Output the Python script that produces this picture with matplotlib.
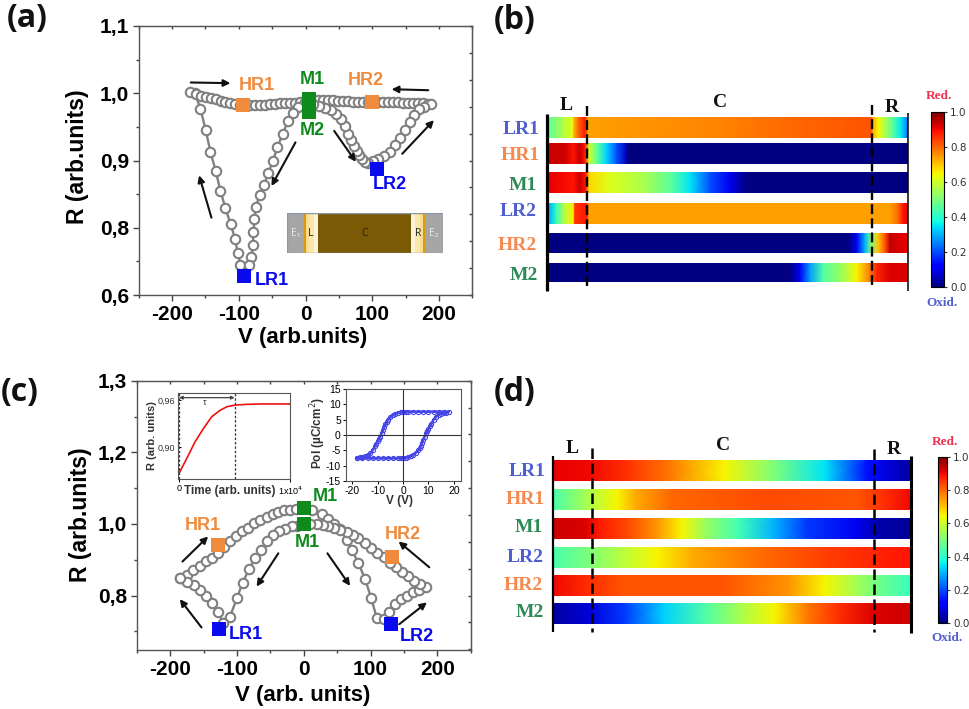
import numpy as np
import matplotlib
matplotlib.use("Agg")
import matplotlib.pyplot as plt
from matplotlib.cm import ScalarMappable
from matplotlib.colors import Normalize
from matplotlib.patches import Rectangle

SANS = "Liberation Sans"
SERIF = "Liberation Serif"
plt.rcParams["font.family"] = [SANS, "DejaVu Sans"]
plt.rcParams["axes.unicode_minus"] = False

W, H = 969, 709

# ---- panel (a) data
a_v = [-97.5, -101.5, -105.5, -112, -120, -127.5, -134.5, -142.5, -149.5, -157.5, -166, -173,
       -163.5, -156, -148.5, -141, -133.5, -127, -120, -112.5, -105, -98.5, -91, -83.5, -76, -68.5,
       -61, -53.5, -46, -38.5, -31, -23.5, -16, -8.5, -1, 6.5, 19, 26.5, 34, 41.5, 49, 56.5, 64, 71.5,
       79, 86.5, 94, 101.5, 109, 116.5, 124, 131.5, 139, 146.5, 154, 161.5, 169, 176.5, 184, 188,
       177.5, 170.5, 163, 156.5, 149, 141.5, 134, 126.5, 118, 109, 100.5, 93.5, 89, 84, 80, 76.5,
       72.5, 68, 64, 59, 52.5, 45.5, 37.5, 29, 20.5, 11.5, 4,
       -11, -18.5, -26.5, -34, -42, -49, -56, -62, -68.5, -74.5, -76.5, -78, -79, -81, -84.5]
a_r = [.745, .762, .783, .805, .829, .855, .884, .913, .945, .977, 1.001, 1.002,
       .9995, .996, .9945, .9925, .991, .989, .987, .985, .984, .983, .982, .982, .983, .983,
       .983, .984, .984, .985, .985, .986, .986, .987, .9875, .991, .9905, .9905, .99, .9895, .989, .9885, .988, .9875,
       .9875, .9875, .987, .987, .9865, .9865, .9865, .9865, .9865, .986, .986, .986, .9855, .9855, .9845, .984,
       .98, .976, .967, .957, .946, .934, .923, .913, .9065, .9015, .899, .8965, .8975, .9015, .9075, .914,
       .9215, .931, .94, .951, .961, .9685, .975, .9785, .981, .9835, .986,
       .98, .97, .958, .94, .92, .899, .881, .864, .849, .831, .813, .793, .774, .757, .744]

# state markers (V, R)
a_states = {"HR1": (-93, .982), "M1": (5.5, .991), "M2": (5.5, .972),
            "HR2": (99.5, .9875), "LR1": (-92, .728), "LR2": (106.5, .8875)}
a_state_labels = {"HR1": (-73.5, 1.012), "M1": (9.5, 1.021), "M2": (10.5, .945),
                  "HR2": (90.5, 1.019), "LR1": (-50.5, .721), "LR2": (126.5, .864)}
a_arrows = [((-172, 1.016), (-112.5, 1.015)), ((184, 1.0045), (129, 1.006)),
            ((43, .944), (75.5, .898)), ((145, .91), (192.5, .96)),
            ((-15, .927), (-51, .862)), ((-141, .815), (-159.5, .878))]

# ---- panel (c) data
c_v = [-184.5, -174.5, -165.5, -155.5, -146.5, -138, -128, -119.5, -110.5, -101.5, -92.5, -83, -74, -65, -55.5,
       -46.5, -38, -29, -20.5, -11.5, 0, 13, 27, 37, 46, 54.5, 64.5, 72.5, 82, 92, 101, 109.5, 119.5,
       127, 137, 146, 154.5, 163, 172, 183.5,
       173.5, 164.5, 155.5, 147, 138, 129.5, 119.5, 109.5, 101, 92, 82, 73.5, 64.5, 54.5, 46, 37, 28.5, 19.5, 9.5, 0,
       -10.5, -18, -28, -36.5, -45.5, -55.5, -64, -73, -82, -91.5, -100, -110.5, -120.5,
       -128, -137, -146.5, -155.5, -164.5, -174.5, -184.5]
c_r = [.85, .858, .872, .883, .896, .905, .92, .935, .951, .965, .979, .99, 1.002, 1.011, 1.02,
       1.029, 1.033, 1.038, 1.04, 1.042, 1.044, 1.038, 1.027, 1.015, 1.0, .985, .955, .926, .89, .846, .793, .737, .734,
       .755, .776, .79, .799, .809, .816, .823,
       .832, .842, .855, .867, .879, .89, .909, .92, .932, .946, .96, .968, .978, .983, .99, .995, .998, 1.0, 1.0, 1.0,
       .995, .993, .986, .979, .969, .951, .928, .904, .873, .836, .792, .741, .723,
       .755, .779, .799, .816, .83, .839, .85]

c_states = {"HR1": (-129, .941), "M1": (0, 1.0456), "M1b": (0, .999),
            "HR2": (132, .909), "LR1": (-127.5, .707), "LR2": (130.5, .721)}
c_state_labels = {"HR1": (-150.5, .995), "M1": (33, 1.078), "M1b": (6, .949),
                  "HR2": (148.5, .971), "LR1": (-86.5, .692), "LR2": (169.5, .687)}
c_arrows = [((-181.5, .895), (-143, .965)), ((-153, .711), (-185.5, .79)),
            ((-38, .918), (-70.5, .825)), ((35.5, .918), (69.5, .827)),
            ((188, .879), (142, .951)), ((143, .72), (184.5, .781))]

# inset: R vs time
time_vals = [0, .07, .144, .22, .295, .37, .43, .503, .61, .73, 1]
time_r = [.867, .886, .907, .924, .939, .947, .9515, .9536, .9545, .955, .955]

# inset: hysteresis loop
loop_v = [-18, -17, -16, -15, -14, -13, -12, -11, -10.5, -10, -9.5, -9, -8.5, -8, -7.5, -7, -6.5, -6, -5, -4, -3, -2, -1, 0,
          1, 2, 4, 6, 8, 10, 12, 14, 16, 18,
          17, 16, 15, 14, 13, 12, 11, 10.5, 10, 9.5, 9, 8.5, 8, 7.5, 7, 6.5, 6, 5, 4, 3, 2, 1, 0,
          -1, -2, -4, -6, -8, -10, -12, -14, -16, -18]
loop_p = [-7.5, -7.3, -7.2, -7, -6.6, -6, -5, -3.5, -2.8, -2, -1.2, -.5, .5, 1.5, 2.5, 3.5, 4.3, 5, 5.8, 6.5, 6.9, 7.2, 7.4, 7.5,
          7.6, 7.6, 7.6, 7.6, 7.6, 7.6, 7.6, 7.6, 7.6, 7.6,
          7.3, 7.2, 7, 6.6, 6, 5, 3.5, 2.8, 2, 1.2, .5, -.5, -1.5, -2.5, -3.5, -4.3, -5, -5.8, -6.5, -6.9, -7.2, -7.4, -7.5,
          -7.6, -7.6, -7.6, -7.6, -7.6, -7.6, -7.6, -7.6, -7.6, -7.6]

# ---- panel (b) profiles, position along device (%) and value
state_names = ["LR1", "HR1", "M1", "LR2", "HR2", "M2"]
b_pos = [
    [0, 3.4, 6.5, 6.9, 8.1, 9.9, 10.9, 11.3, 48.5, 67, 87.5, 89.6, 90.3, 91.6, 93, 95.8, 98.1, 100],
    [0, 4.4, 6.7, 8.5, 9.9, 11.1, 13.6, 16, 18.8, 21.5, 22, 100],
    [0, 6.7, 8.5, 10.2, 11.1, 16.9, 27.1, 34.5, 39.2, 44.8, 50.3, 55, 100],
    [0, 2, 4.4, 6.7, 7.1, 10.4, 11.1, 95, 97.2, 98.6, 100],
    [0, 83.3, 85.6, 87.9, 89.6, 91.6, 93.5, 94.9, 97.2, 100],
    [0, 67, 69.8, 72.6, 76.3, 81.9, 85.6, 89.3, 91.2, 94.9, 100],
]
b_val = [
    [.47, .55, .63, .72, .8, .88, .72, .74, .77, .8, .82, .82, .72, .65, .58, .45, .35, .22],
    [.93, .93, .89, .94, .89, .6, .45, .33, .2, .05, 0, 0],
    [.91, .89, .93, .88, .68, .62, .55, .45, .35, .2, .1, 0, 0],
    [.3, .42, .58, .66, .85, .89, .74, .74, .8, .89, .91],
    [0, 0, .1, .3, .5, .7, .82, .94, .92, .91],
    [0, 0, .1, .28, .45, .55, .65, .78, .87, .92, .92],
]

# ---- panel (d) profiles
d_pos = [
    [0, 10, 20, 33, 48, 62, 76, 88, 94, 100],
    [0, 10, 18, 23, 33, 60, 85, 93, 100],
    [0, 9, 13, 21, 29, 36, 43, 52, 62, 71, 85, 91, 100],
    [0, 10, 20, 29, 39, 57, 76, 90, 100],
    [0, 10, 20, 48, 66, 76, 85, 92, 100],
    [0, 10, 20, 31, 43, 52, 62, 71, 80, 90, 100],
]
d_val = [
    [.91, .9, .86, .78, .65, .5, .35, .14, .08, .03],
    [.44, .56, .65, .73, .8, .83, .82, .86, .9],
    [.93, .92, .88, .83, .75, .65, .53, .43, .3, .18, .1, .04, .02],
    [.44, .5, .58, .65, .73, .79, .84, .87, .89],
    [.9, .86, .82, .82, .75, .65, .55, .48, .42],
    [.03, .08, .18, .33, .45, .55, .65, .78, .86, .92, .93],
]

GREY = "#808080"
BLUE = "#0a0aee"
ORANGE = "#f08a3c"
GREEN = "#0f8a1c"
LBL_BLUE = "#4f5fd0"
LBL_ORANGE = "#f58a50"
LBL_GREEN = "#2e8b57"


def state_color(name):
    return {"L": BLUE, "H": ORANGE, "M": GREEN}[name[0]]


def label_color(name):
    return {"L": LBL_BLUE, "H": LBL_ORANGE, "M": LBL_GREEN}[name[0]]


fig = plt.figure(figsize=(W / 100, H / 100), dpi=100, facecolor="white")


def px_axes(x0, y0, x1, y1, **kw):
    return fig.add_axes([x0 / W, 1 - y1 / H, (x1 - x0) / W, (y1 - y0) / H], **kw)


def draw_iv(ax, v, r, states, labels, arrows, xlim, ylim, yticks, ylabels, yminor, right_ticks):
    ax.plot(v + v[:1], r + r[:1], "-", color=GREY, lw=1.7, zorder=2)
    ax.plot(v, r, "o", ms=6.8, mfc="white", mec=GREY, mew=1.5, zorder=3)
    for name, (sx, sy) in states.items():
        ax.plot(sx, sy, "s", ms=9.6, color=state_color(name), mew=0, zorder=4)
        lx, ly = labels[name]
        ax.text(lx, ly, name.replace("b", ""), color=state_color(name), fontsize=13, fontweight="bold",
                ha="center", va="center", zorder=5)
    for start, end in arrows:
        ax.annotate("", xy=end, xytext=start,
                    arrowprops=dict(arrowstyle="-|>", color="#111111", lw=1.5, mutation_scale=10, shrinkA=0, shrinkB=0))
    ax.set_xlim(*xlim)
    ax.set_ylim(*ylim)
    ax.set_xticks([-200, -100, 0, 100, 200])
    ax.set_xticks([-250, -150, -50, 50, 150, 250], minor=True)
    ax.set_yticks(yticks)
    ax.set_yticklabels(ylabels)
    ax.set_yticks(yminor, minor=True)
    for lab in ax.get_xticklabels() + ax.get_yticklabels():
        lab.set_fontweight("bold")
    ax.tick_params(which="major", length=4, width=1, labelsize=15, pad=3, color="#444444")
    ax.tick_params(which="minor", length=2.5, width=1, color="#444444")
    for s in ax.spines.values():
        s.set_color("#555555")
        s.set_linewidth(1)
    top = ax.secondary_xaxis("top")
    top.set_xticks([-250, -200, -150, -100, -50, 0, 50, 100, 150, 200, 250])
    top.tick_params(direction="in", length=2.5, width=1, labeltop=False, color="#444444")
    right = ax.secondary_yaxis("right")
    right.set_yticks(right_ticks)
    right.tick_params(direction="in", length=2.5, width=1, labelright=False, color="#444444")
    for sec in (top, right):
        for s in sec.spines.values():
            s.set_color("#555555")


# (a)
ax_a = px_axes(138.7, 26, 472.3, 295)
draw_iv(ax_a, a_v, a_r, a_states, a_state_labels, a_arrows, (-250, 250), (.7, 1.1),
        [.7, .8, .9, 1.0, 1.1], ["0,6", "0,8", "0,9", "1,0", "1,1"],
        [.75, .85, .95, 1.05],
        [.7, .74, .78, .82, .86, .9, .94, .98, 1.02, 1.06, 1.1])

# device sketch inside (a)
ax_dev = px_axes(286.7, 213.3, 442.7, 252.7, zorder=6)
ax_dev.set_xlim(0, 468)
ax_dev.set_ylim(0, 1)
ax_dev.axis("off")
for x0, w, col in [(0, 52, "#a6a6a6"), (52, 5, "#d99a10"), (57, 10, "#f9dd90"), (67, 14, "#fbe6ac"),
                   (81, 12, "#fdf3d8"), (93, 280, "#7a5a05"), (373, 12, "#fdf3d8"), (385, 14, "#fbe6ac"),
                   (399, 10, "#f9dd90"), (409, 5, "#d99a10"), (414, 54, "#a6a6a6")]:
    ax_dev.add_patch(Rectangle((x0, 0), w, 1, fc=col, ec="none"))
ax_dev.add_patch(Rectangle((0, 0), 468, 1, fc="none", ec="#8a96a8", lw=1))
for x, s, col in [(26, "E₁", "#e8e8e8"), (73, "L", "#222222"), (233, "C", "#222222"),
                  (394, "R", "#222222"), (440, "E₂", "#e8e8e8")]:
    ax_dev.text(x, .48, s, fontsize=7.5, color=col, ha="center", va="center",
                family=["Open Sans", "DejaVu Sans"])

# (c)
ax_c = px_axes(136.7, 380.7, 470.7, 650)
draw_iv(ax_c, c_v, c_r, c_states, c_state_labels, c_arrows, (-250, 250), (.648, 1.4),
        [.8, 1.0, 1.2, 1.4], ["0,8", "1,0", "1,2", "1,3"],
        [.7, .9, 1.1, 1.3],
        [.65, .725, .8, .875, .95, 1.025, 1.1, 1.175, 1.25, 1.325, 1.4])

# inset R vs time
ax_t = px_axes(177.7, 392.7, 290.3, 479.3, zorder=6)
ax_t.plot(time_vals, time_r, color="#ee1111", lw=1.2)
ax_t.set_xlim(-.012, 1)
ax_t.set_ylim(.8594, .9693)
ax_t.axvline(.5, color="#333333", lw=.9, ls=(0, (2, 1.5)))
ax_t.axvline(0, color="#333333", lw=.9, ls=(0, (2, 1.5)))
ax_t.annotate("", xy=(0, .963), xytext=(.5, .963),
              arrowprops=dict(arrowstyle="<|-|>", color="#444444", lw=.9, mutation_scale=5, shrinkA=0, shrinkB=0))
ax_t.text(.23, .957, "τ", fontsize=6.5, ha="center", va="center", color="#333333")
ax_t.set_xticks([0, 1])
ax_t.set_xticklabels(["0", "1x10$^4$"], fontsize=6.5)
ax_t.set_yticks([.90, .96])
ax_t.set_yticklabels(["0,90", "0,96"], fontsize=6.5, color="#333333")
ax_t.tick_params(axis="y", direction="in", length=2, pad=1.5, width=.7)
ax_t.tick_params(axis="x", length=2, pad=1.5, width=.7)
for s in ax_t.spines.values():
    s.set_linewidth(.8)
    s.set_color("#555555")

# inset hysteresis
ax_p = px_axes(345.7, 389, 461, 481, zorder=6)
ax_p.plot(loop_v, loop_p, "-o", color="#4646e6", lw=1.8, ms=3, mfc="none", mew=.8)
ax_p.axhline(0, color="#333333", lw=.8)
ax_p.axvline(0, color="#333333", lw=.8)
ax_p.set_xlim(-22.6, 22.8)
ax_p.set_ylim(-15, 15)
ax_p.set_xticks([-20, -10, 0, 10, 20])
ax_p.set_yticks([-15, -10, -5, 0, 5, 10, 15])
ax_p.tick_params(labelsize=7.5, length=2, width=.7, pad=1.5)
for s in ax_p.spines.values():
    s.set_linewidth(.8)
    s.set_color("#555555")


def draw_rows(positions, values, row_tops, row_bots, x0, x1):
    for pos, val, top, bot in zip(positions, values, row_tops, row_bots):
        ax = px_axes(x0, top, x1, bot)
        xx, yy = np.meshgrid(pos, [0, 1])
        zz = np.array([val, val])
        ax.pcolormesh(xx, yy, zz, cmap="jet", vmin=0, vmax=1, shading="gouraud", rasterized=True)
        ax.set_xlim(0, 100)
        ax.axis("off")


def draw_cbar(x0, y0, x1, y1, size):
    cax = px_axes(x0, y0, x1, y1)
    sm = ScalarMappable(norm=Normalize(0, 1), cmap="jet")
    cb = fig.colorbar(sm, cax=cax)
    cb.set_ticks([0, .2, .4, .6, .8, 1], labels=["0.0", "0.2", "0.4", "0.6", "0.8", "1.0"],
                 family="DejaVu Sans")
    cb.ax.tick_params(labelsize=size, length=2.5, width=.8, pad=2, colors="#333333")
    cb.outline.set_linewidth(.8)


draw_rows(b_pos, b_val, [116.7, 143.3, 172.3, 202.7, 232.7, 262.7],
          [137.7, 164.3, 193.3, 223.7, 252.7, 282.3], 549.3, 908.3)
draw_rows(d_pos, d_val, [460.3, 489.3, 518, 547.3, 575.3, 603.3],
          [481, 510, 538.7, 568, 596, 624], 553.3, 910)
draw_cbar(931.3, 112, 944, 287, 7.5)
draw_cbar(938, 456.7, 946.7, 623.3, 7.5)

# overlay in pixel coordinates for guide lines and labels
ov = px_axes(0, 0, W, H, zorder=10)
ov.set_xlim(0, W)
ov.set_ylim(H, 0)
ov.axis("off")
ov.patch.set_alpha(0)

dash = (0, (4.2, 1.8))
for x, y0, y1, lw, ls in [(547, 114.3, 290.7, 2.3, "-"), (586.7, 106, 289.3, 1.7, dash),
                          (871.7, 105, 289.3, 1.7, dash), (908.3, 112.7, 290.7, 1.1, "-"),
                          (552.7, 456, 631.7, 1.6, "-"), (591.7, 448.3, 631.7, 1.8, dash),
                          (873.7, 449.3, 631.7, 1.8, dash), (911, 456, 632.7, 2.2, "-")]:
    ov.plot([x, x], [y0, y1], color="black", lw=lw, ls=ls, solid_capstyle="butt")

b_lab_x = [539.3, 539.3, 536.7, 536.7, 537.3, 538.3]
b_lab_y = [129.3, 155, 185, 211.7, 245, 275]
d_lab_x = [546, 544.3, 543.3, 543.3, 543.3, 544.3]
d_lab_y = [471, 499.3, 527.3, 557.3, 585, 612.7]
for xs, ys in [(b_lab_x, b_lab_y), (d_lab_x, d_lab_y)]:
    for name, x, y in zip(state_names, xs, ys):
        ov.text(x, y, name, color=label_color(name), family=SERIF, fontweight="bold", fontsize=14,
                ha="right", va="center")

for s, x, y in [("L", 566, 105), ("C", 720, 102.7), ("R", 891.7, 107.3),
                ("L", 571.7, 448.3), ("C", 723.3, 445), ("R", 894, 450)]:
    ov.text(x, y, s, family=SERIF, fontweight="bold", fontsize=14, ha="center", va="center", color="#111111")

for s, x, y, col in [("Red.", 939, 96, "#f0304f"), ("Oxid.", 941.7, 302.7, LBL_BLUE),
                     ("Red.", 945, 442, "#f0304f"), ("Oxid.", 947, 638, LBL_BLUE)]:
    ov.text(x, y, s, family=SERIF, fontweight="bold", fontsize=9.5, ha="center", va="center", color=col)

# axis titles
ov.text(303, 338, "V (arb.units)", fontsize=16, fontweight="bold", ha="center", va="center")
ov.text(78, 157, "R (arb.units)", fontsize=16.5, fontweight="bold", ha="center", va="center", rotation=90)
ov.text(303, 695, "V (arb. units)", fontsize=16, fontweight="bold", ha="center", va="center")
ov.text(81, 515, "R (arb.units)", fontsize=16.5, fontweight="bold", ha="center", va="center", rotation=90)

# inset titles
ov.text(152, 436, "R (arb. units)", fontsize=8, fontweight="bold", color="#333333", ha="center", va="center", rotation=90)
ov.text(230, 491, "Time (arb. units)", fontsize=8.5, fontweight="bold", color="#333333", ha="center", va="center")
ov.text(318, 433, "Pol (µC/cm$^2$)", fontsize=8.5, fontweight="bold", color="#333333", ha="center", va="center", rotation=90)
ov.text(400, 501, "V (V)", fontsize=8.5, fontweight="bold", color="#333333", ha="center", va="center")

# panel letters
for s, x, y in [("(a)", 7, 18), ("(b)", 494, 20), ("(c)", 1, 393), ("(d)", 494, 393)]:
    ov.text(x, y, s, fontsize=23, fontweight="bold", family="Open Sans", ha="left", va="center", color="#111111")

fig.savefig("out.png", dpi=100)
